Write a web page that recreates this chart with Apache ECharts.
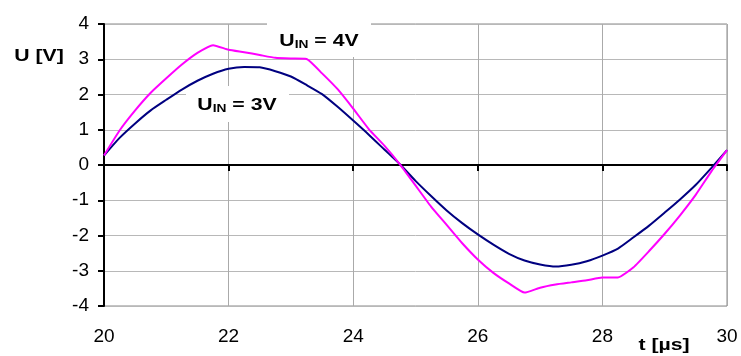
<!DOCTYPE html>
<html>
<head>
<meta charset="utf-8">
<title>U(t)</title>
<script src="https://cdn.jsdelivr.net/npm/echarts@6/dist/echarts.min.js"></script>
<style>
  html, body { margin: 0; padding: 0; background: #fff; }
  #chart { width: 741px; height: 356px; }
</style>
</head>
<body>
<div id="chart"></div>
<script>
// Time samples in microseconds
const tValues = [
  20.0, 20.25, 20.5, 20.75, 21.0, 21.25, 21.5, 21.75, 22.0, 22.25,
  22.5, 22.75, 23.0, 23.25, 23.5, 23.75, 24.0, 24.25, 24.5, 24.75,
  25.0, 25.25, 25.5, 25.75, 26.0, 26.25, 26.5, 26.75, 27.0, 27.25,
  27.5, 27.75, 28.0, 28.25, 28.5, 28.75, 29.0, 29.25, 29.5, 29.75, 30.0
];

// Output voltage for U_IN = 3 V
const u3V = [
  0.27, 0.77, 1.18, 1.55, 1.85, 2.14, 2.39, 2.59, 2.73, 2.78,
  2.77, 2.66, 2.51, 2.27, 2.01, 1.65, 1.26, 0.86, 0.44, 0.02,
  -0.45, -0.88, -1.29, -1.65, -1.97, -2.26, -2.52, -2.71, -2.82, -2.88,
  -2.83, -2.73, -2.57, -2.37, -2.05, -1.72, -1.35, -0.97, -0.56, -0.08, 0.42
];

// Output voltage for U_IN = 4 V
const u4V = [
  0.27, 0.98, 1.55, 2.05, 2.46, 2.85, 3.18, 3.40, 3.27, 3.20,
  3.12, 3.04, 3.02, 3.01, 2.60, 2.15, 1.60, 1.02, 0.55, 0.02,
  -0.58, -1.18, -1.70, -2.22, -2.68, -3.06, -3.36, -3.62, -3.48, -3.39,
  -3.33, -3.27, -3.19, -3.19, -2.90, -2.44, -1.95, -1.42, -0.84, -0.18, 0.42
];

// Axis tick values
const xTicks = [20, 22, 24, 26, 28, 30];
const yTicks = [-4, -3, -2, -1, 0, 1, 2, 3, 4];

const FONT = '"Liberation Sans", Arial, sans-serif';
const STRETCH = 1.25;

const chart = echarts.init(document.getElementById('chart'), null, { renderer: 'canvas' });

function pairs(xs, ys) { return xs.map((x, i) => [x, ys[i]]); }

function uinLabel(x, y, value) {
  return {
    type: 'text', x: x, y: y, scaleX: STRETCH, z: 10,
    style: {
      text: '{u|U}{s|IN}{u| = ' + value + '}',
      align: 'center', verticalAlign: 'middle',
      textAlign: 'center', textVerticalAlign: 'middle',
      fill: '#000',
      rich: {
        u: { fontFamily: FONT, fontWeight: 'bold', fontSize: 17, lineHeight: 20, verticalAlign: 'bottom', fill: '#000', color: '#000' },
        s: { fontFamily: FONT, fontWeight: 'bold', fontSize: 11, lineHeight: 13, verticalAlign: 'bottom', fill: '#000', color: '#000' }
      }
    }
  };
}

function plainLabel(x, y, text) {
  return {
    type: 'text', x: x, y: y, scaleX: STRETCH, z: 10,
    style: {
      text: text, font: 'bold 17px ' + FONT, fill: '#000',
      align: 'center', verticalAlign: 'middle',
      textAlign: 'center', textVerticalAlign: 'middle'
    }
  };
}

const option = {
  animation: false,
  backgroundColor: '#fff',
  grid: {
    left: 104, right: 14, top: 24, bottom: 50,
    show: true, borderColor: '#888', borderWidth: 1, backgroundColor: 'transparent'
  },
  xAxis: [
    {
      // axis line drawn along U = 0 with tick marks below it
      type: 'value', position: 'bottom', min: 20, max: 30, interval: 2,
      axisLine: { show: true, onZero: true, lineStyle: { color: '#000', width: 2 } },
      axisTick: { show: true, inside: false, length: 6, lineStyle: { color: '#000', width: 2 } },
      axisLabel: { show: false },
      splitLine: { show: true, lineStyle: { color: '#aaaaaa', width: 1 } }
    },
    {
      // tick labels along the bottom edge
      type: 'value', position: 'bottom', min: 20, max: 30, interval: 2,
      axisLine: { show: false, onZero: false },
      axisTick: { show: false },
      splitLine: { show: false },
      axisLabel: {
        show: true, margin: 21, fontFamily: FONT, fontSize: 19, color: '#000',
        customValues: xTicks,
        formatter: v => String(v)
      }
    }
  ],
  yAxis: {
    type: 'value', min: -4, max: 4, interval: 1,
    axisLine: { show: true, onZero: false, lineStyle: { color: '#000', width: 2 } },
    axisTick: { show: true, inside: false, length: 6, lineStyle: { color: '#000', width: 2 } },
    axisLabel: {
      show: true, margin: 15, fontFamily: FONT, fontSize: 19, color: '#000',
      customValues: yTicks,
      formatter: v => String(v)
    },
    splitLine: { show: true, lineStyle: { color: '#b8b8b8', width: 1 } }
  },
  series: [
    {
      name: 'U_IN = 3V', type: 'line', xAxisIndex: 0, data: pairs(tValues, u3V),
      showSymbol: false, smooth: 0.2, z: 20,
      lineStyle: { color: '#000080', width: 2 }, itemStyle: { color: '#000080' }
    },
    {
      name: 'U_IN = 4V', type: 'line', xAxisIndex: 0, data: pairs(tValues, u4V),
      showSymbol: false, smooth: 0.15, z: 21,
      lineStyle: { color: '#ff00ff', width: 2 }, itemStyle: { color: '#ff00ff' }
    }
  ],
  graphic: [
    // white boxes behind the curve labels
    { type: 'rect', shape: { x: 267, y: 12, width: 104, height: 45 }, style: { fill: '#fff' }, z: 5 },
    { type: 'rect', shape: { x: 186, y: 86, width: 103, height: 36 }, style: { fill: '#fff' }, z: 5 },
    uinLabel(319, 40, '4V'),
    uinLabel(237, 104, '3V'),
    plainLabel(39, 56, 'U [V]'),
    plainLabel(664, 345, 't [µs]')
  ]
};

chart.setOption(option);
</script>
</body>
</html>
